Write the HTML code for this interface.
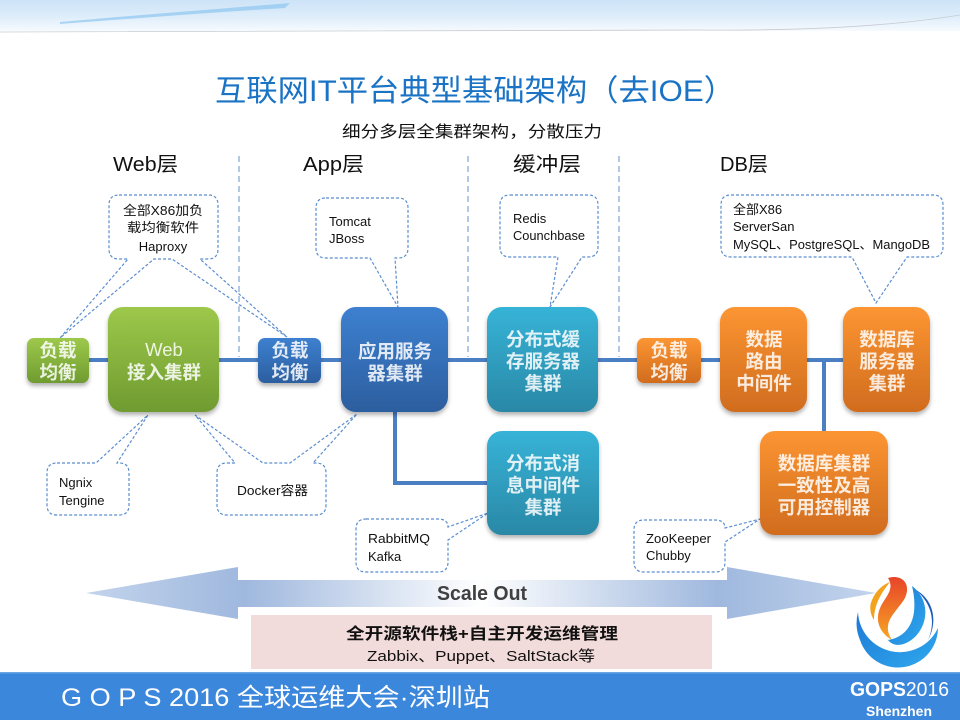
<!DOCTYPE html>
<html><head><meta charset="utf-8">
<style>
html,body{margin:0;padding:0;background:#fff;}
svg{display:block;}
text{font-family:"Liberation Sans","Noto Sans CJK SC",sans-serif;}
.bx{fill:#fff;fill-opacity:0.85;font-weight:bold;font-size:18.5px;text-anchor:middle;}
.co{fill:#111;font-size:13px;}
.cl{fill:none;stroke:#5b8ed0;stroke-width:1.2;stroke-dasharray:3 2;}
</style></head>
<body>
<svg width="960" height="720" viewBox="0 0 960 720" xmlns="http://www.w3.org/2000/svg">
<defs>
  <linearGradient id="hdr" x1="0" y1="0" x2="0" y2="1">
    <stop offset="0" stop-color="#cde3f7"/>
    <stop offset="0.5" stop-color="#dcecfa"/>
    <stop offset="1" stop-color="#f6fafe"/>
  </linearGradient>
  <linearGradient id="gG" x1="0" y1="0" x2="0" y2="1">
    <stop offset="0" stop-color="#9dc84b"/><stop offset="1" stop-color="#6f9b30"/>
  </linearGradient>
  <linearGradient id="gB" x1="0" y1="0" x2="0" y2="1">
    <stop offset="0" stop-color="#3d80d0"/><stop offset="1" stop-color="#2c5e9f"/>
  </linearGradient>
  <linearGradient id="gT" x1="0" y1="0" x2="0" y2="1">
    <stop offset="0" stop-color="#36b3d7"/><stop offset="1" stop-color="#2a88a6"/>
  </linearGradient>
  <linearGradient id="gO" x1="0" y1="0" x2="0" y2="1">
    <stop offset="0" stop-color="#fc9532"/><stop offset="1" stop-color="#d06c1e"/>
  </linearGradient>
  <linearGradient id="arr" x1="86" y1="0" x2="876" y2="0" gradientUnits="userSpaceOnUse">
    <stop offset="0" stop-color="#c3d4ec"/>
    <stop offset="0.2" stop-color="#9fb8de"/>
    <stop offset="0.5" stop-color="#ffffff"/>
    <stop offset="0.8" stop-color="#9fb8de"/>
    <stop offset="1" stop-color="#c3d4ec"/>
  </linearGradient>
  <filter id="sh" x="-20%" y="-20%" width="140%" height="150%">
    <feDropShadow dx="0" dy="3" stdDeviation="2" flood-color="#000" flood-opacity="0.3"/>
  </filter>
  <linearGradient id="lgO" x1="0" y1="0" x2="0" y2="1">
    <stop offset="0" stop-color="#e8442a"/><stop offset="1" stop-color="#f6a623"/>
  </linearGradient>
  <linearGradient id="lgB" x1="0" y1="0" x2="1" y2="1">
    <stop offset="0" stop-color="#1e78d4"/><stop offset="1" stop-color="#2fa9ee"/>
  </linearGradient>
</defs>

<!-- header swoosh -->
<rect x="0" y="0" width="960" height="31" fill="url(#hdr)"/>
<path d="M60,22 C150,14 230,8 290,3 L285,8 C220,12 140,18 60,24 Z" fill="#8ec6f0" opacity="0.7"/>
<path d="M0,32 C200,31 400,29 700,30 C820,31 900,25 960,15" fill="none" stroke="#c8ccd2" stroke-width="0.8"/>

<!-- title -->
<text x="475" y="101" text-anchor="middle" font-size="30" fill="#1a73c5" textLength="520" lengthAdjust="spacingAndGlyphs">互联网IT平台典型基础架构（去IOE）</text>
<text x="472" y="137" text-anchor="middle" font-size="16" fill="#111" textLength="260" lengthAdjust="spacingAndGlyphs">细分多层全集群架构，分散压力</text>

<!-- layer labels -->
<text x="113" y="171" font-size="20" fill="#111" textLength="65" lengthAdjust="spacingAndGlyphs">Web层</text>
<text x="303" y="171" font-size="20" fill="#111" textLength="61" lengthAdjust="spacingAndGlyphs">App层</text>
<text x="513" y="171" font-size="20" fill="#111" textLength="68" lengthAdjust="spacingAndGlyphs">缓冲层</text>
<text x="720" y="171" font-size="20" fill="#111" textLength="48" lengthAdjust="spacingAndGlyphs">DB层</text>

<!-- vertical separators -->
<g stroke="#7fa3d2" stroke-width="1.2" stroke-dasharray="6 4">
  <line x1="239" y1="156" x2="239" y2="357"/>
  <line x1="468" y1="156" x2="468" y2="357"/>
  <line x1="619" y1="156" x2="619" y2="357"/>
</g>

<!-- connectors -->
<g stroke="#4b7fc4" stroke-width="4" fill="none">
  <line x1="88" y1="360" x2="845" y2="360"/>
  <line x1="824" y1="360" x2="824" y2="432"/>
  <polyline points="395,410 395,483 489,483"/>
</g>

<!-- callouts -->
<path class="cl" d="M119,195 H208 Q218,195 218,205 V249 Q218,259 208,259 H200 L287,337 L172,259 H154 L60,338 L128,259 H119 Q109,259 109,249 V205 Q109,195 119,195 Z"/>
<path class="cl" d="M326,198 H398 Q408,198 408,208 V248 Q408,258 398,258 H395 L398,307 L370,258 H326 Q316,258 316,248 V208 Q316,198 326,198 Z"/>
<path class="cl" d="M510,195 H588 Q598,195 598,205 V247 Q598,257 588,257 H582 L550,307 L558,257 H510 Q500,257 500,247 V205 Q500,195 510,195 Z"/>
<path class="cl" d="M731,195 H933 Q943,195 943,205 V247 Q943,257 933,257 H907 L876,303 L852,257 H731 Q721,257 721,247 V205 Q721,195 731,195 Z"/>
<path class="cl" d="M57,463 H96 L148,415 L117,463 H119 Q129,463 129,473 V505 Q129,515 119,515 H57 Q47,515 47,505 V473 Q47,463 57,463 Z"/>
<path class="cl" d="M227,463 H235 L195,415 L263,463 H290 L357,414 L313,463 H316 Q326,463 326,473 V505 Q326,515 316,515 H227 Q217,515 217,505 V473 Q217,463 227,463 Z"/>
<path class="cl" d="M366,519 H438 Q448,519 448,527 L488,513 L448,540 V562 Q448,572 438,572 H366 Q356,572 356,562 V529 Q356,519 366,519 Z"/>
<path class="cl" d="M644,520 H715 Q725,520 725,528 L760,519 L725,542 V562 Q725,572 715,572 H644 Q634,572 634,562 V530 Q634,520 644,520 Z"/>

<!-- callout text -->
<g class="co">
  <text x="163" y="215" text-anchor="middle" textLength="80" lengthAdjust="spacingAndGlyphs">全部X86加负</text>
  <text x="163" y="232" text-anchor="middle" textLength="72" lengthAdjust="spacingAndGlyphs">载均衡软件</text>
  <text x="163" y="251" text-anchor="middle">Haproxy</text>
  <text x="329" y="226">Tomcat</text>
  <text x="329" y="243">JBoss</text>
  <text x="513" y="223">Redis</text>
  <text x="513" y="240" textLength="72" lengthAdjust="spacingAndGlyphs">Counchbase</text>
  <text x="733" y="214">全部X86</text>
  <text x="733" y="231">ServerSan</text>
  <text x="733" y="249" textLength="197" lengthAdjust="spacingAndGlyphs">MySQL、PostgreSQL、MangoDB</text>
  <text x="59" y="487">Ngnix</text>
  <text x="59" y="505">Tengine</text>
  <text x="237" y="495" textLength="71" lengthAdjust="spacingAndGlyphs">Docker容器</text>
  <text x="368" y="543" textLength="62" lengthAdjust="spacingAndGlyphs">RabbitMQ</text>
  <text x="368" y="561">Kafka</text>
  <text x="646" y="543" textLength="65" lengthAdjust="spacingAndGlyphs">ZooKeeper</text>
  <text x="646" y="560">Chubby</text>
</g>

<!-- boxes -->
<g filter="url(#sh)">
  <rect x="27" y="338" width="62" height="45" rx="7" fill="url(#gG)"/>
  <rect x="108" y="307" width="111" height="105" rx="15" fill="url(#gG)"/>
  <rect x="258" y="338" width="63" height="45" rx="7" fill="url(#gB)"/>
  <rect x="341" y="307" width="107" height="105" rx="15" fill="url(#gB)"/>
  <rect x="487" y="307" width="111" height="105" rx="15" fill="url(#gT)"/>
  <rect x="637" y="338" width="64" height="45" rx="7" fill="url(#gO)"/>
  <rect x="720" y="307" width="87" height="105" rx="15" fill="url(#gO)"/>
  <rect x="843" y="307" width="87" height="105" rx="15" fill="url(#gO)"/>
  <rect x="487" y="431" width="112" height="104" rx="15" fill="url(#gT)"/>
  <rect x="760" y="431" width="128" height="104" rx="15" fill="url(#gO)"/>
</g>

<!-- box text -->
<g class="bx">
  <text x="58" y="357">负载</text><text x="58" y="379">均衡</text>
  <text x="164" y="356" font-weight="normal">Web</text><text x="164" y="379">接入集群</text>
  <text x="290" y="357">负载</text><text x="290" y="379">均衡</text>
  <text x="395" y="358">应用服务</text><text x="395" y="380">器集群</text>
  <text x="543" y="346">分布式缓</text><text x="543" y="368">存服务器</text><text x="543" y="390">集群</text>
  <text x="669" y="357">负载</text><text x="669" y="379">均衡</text>
  <text x="764" y="346">数据</text><text x="764" y="368">路由</text><text x="764" y="390">中间件</text>
  <text x="887" y="346">数据库</text><text x="887" y="368">服务器</text><text x="887" y="390">集群</text>
  <text x="543" y="470">分布式消</text><text x="543" y="492">息中间件</text><text x="543" y="514">集群</text>
  <text x="824" y="470">数据库集群</text><text x="824" y="492">一致性及高</text><text x="824" y="514">可用控制器</text>
</g>

<!-- scale out arrow -->
<path d="M86,593 L238,567 L238,580 L727,580 L727,567 L876,593 L727,619 L727,607 L238,607 L238,619 Z" fill="url(#arr)"/>
<text x="437" y="600" font-size="20" font-weight="bold" fill="#404040" textLength="90" lengthAdjust="spacingAndGlyphs">Scale Out</text>

<!-- pink box -->
<rect x="251" y="615" width="461" height="54" fill="#f2dcdb"/>
<text x="482" y="639" text-anchor="middle" font-size="16" font-weight="bold" fill="#111" textLength="272" lengthAdjust="spacingAndGlyphs">全开源软件栈+自主开发运维管理</text>
<text x="481" y="661" text-anchor="middle" font-size="15" fill="#111" textLength="228" lengthAdjust="spacingAndGlyphs">Zabbix、Puppet、SaltStack等</text>

<!-- logo -->
<g>
  <path d="M858,612 A42,42 0 0 0 938,628 A40,40 0 0 1 860,640 A44,44 0 0 1 858,612 Z" fill="url(#lgB)"/>
  <path d="M888,578 C900,574 912,582 905,598 C897,612 880,622 892,640 C878,632 874,618 882,604 C888,594 894,588 888,578 Z" fill="url(#lgO)"/>
  <path d="M872,600 C876,590 884,584 890,582 C882,592 874,604 874,620 C870,614 869,606 872,600 Z" fill="#f3a21f"/>
  <path d="M912,586 C928,598 930,620 916,636 C906,646 894,648 888,640 C902,638 912,628 914,612 C915,602 914,594 912,586 Z" fill="url(#lgB)"/>
  <path d="M916,590 C934,600 938,622 928,640 C936,622 932,604 916,590 Z" fill="#1d5fb8"/>
</g>

<!-- footer -->
<rect x="0" y="672" width="960" height="48" fill="#3b87dc"/>
<rect x="0" y="672" width="960" height="1.5" fill="#6aa6e6"/>
<text x="61" y="706" font-size="25" fill="#fff" textLength="429" lengthAdjust="spacingAndGlyphs">G O P S 2016 全球运维大会·深圳站</text>
<text x="850" y="696" font-size="20" fill="#fff" textLength="99" lengthAdjust="spacingAndGlyphs"><tspan font-weight="bold">GOPS</tspan>2016</text>
<text x="899" y="716" font-size="14" font-weight="bold" fill="#fff" text-anchor="middle" textLength="66" lengthAdjust="spacingAndGlyphs">Shenzhen</text>
</svg>
</body></html>
